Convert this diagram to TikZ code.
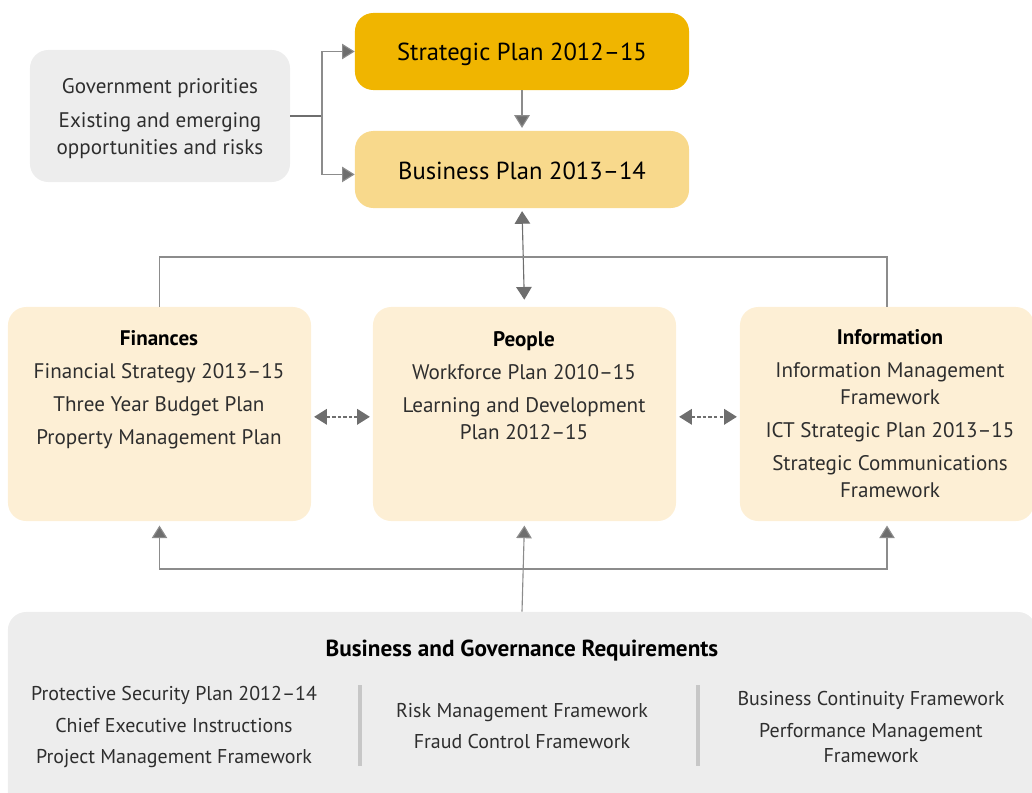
\documentclass[tikz,border=0pt]{standalone}
\usepackage{fontspec}
\setmainfont{PT Sans}
\usetikzlibrary{arrows.meta}

\definecolor{oro}{HTML}{F0B500}
\definecolor{orochiaro}{HTML}{F8D98C}
\definecolor{crema}{HTML}{FDEFD5}
\definecolor{grigiofondo}{HTML}{EDEDED}
\definecolor{grigiolinea}{HTML}{8C8C8C}
\definecolor{grigiofreccia}{HTML}{6E6E6E}
\definecolor{testo}{HTML}{2E2E2E}

\begin{document}
\begin{tikzpicture}[
  x=0.025cm, y=-0.025cm,
  riquadro/.style={rounded corners=13pt, inner sep=0pt, draw=none},
  titolo/.style={align=center, text=black, font=\fontsize{17.5}{21}\selectfont},
  etichetta/.style={align=center, text=testo, font=\fontsize{15}{19.2}\selectfont},
  piccola/.style={etichetta, font=\fontsize{14.2}{19.2}\selectfont},
  linea/.style={draw=grigiolinea, line width=0.8pt},
  freccia/.style={linea, -{Triangle[width=11pt, length=9pt, fill=grigiofreccia]}},
  doppia/.style={draw=grigiofreccia, line width=0.8pt,
                 {Triangle[width=11pt, length=9pt]}-{Triangle[width=11pt, length=9pt]}},
  tratteggio/.style={draw=grigiofreccia, line width=1.2pt,
                     dash pattern=on 2.5pt off 1.5pt,
                     {Triangle[width=11pt, length=9pt]}-{Triangle[width=11pt, length=9pt]}},
  separatore/.style={draw=black!22, line width=2.2pt}
]
\useasboundingbox (0,0) rectangle (1032,792);

%--------------------------------------------------------------
% Piani principali e fattori esterni
%--------------------------------------------------------------
\node[riquadro, fill=grigiofondo, minimum width=6.5cm, minimum height=3.3cm]
  (governo) at (160,116) {};
\node[riquadro, fill=oro, minimum width=8.35cm, minimum height=1.925cm]
  (strategico) at (522,51.5) {};
\node[riquadro, fill=orochiaro, minimum width=8.35cm, minimum height=1.925cm]
  (business) at (522,169.5) {};

\node[etichetta] (txtgoverno) at (160,119)
  {Government priorities\\[5pt] Existing and emerging\\ opportunities and risks};
\node[titolo] (txtstrategico) at (522,54) {Strategic Plan 2012–15};
\node[titolo] (txtbusiness) at (522,171) {Business Plan 2013–14};

%--------------------------------------------------------------
% Aree di supporto: finanze, persone, informazione
%--------------------------------------------------------------
\node[riquadro, fill=crema, minimum width=7.575cm, minimum height=5.35cm]
  (finanze) at (159.5,414) {};
\node[riquadro, fill=crema, minimum width=7.575cm, minimum height=5.35cm]
  (persone) at (524.5,414) {};
\node[riquadro, fill=crema, minimum width=7.35cm, minimum height=5.35cm]
  (informazione) at (887,414) {};

\node[etichetta] (txtfinanze) at (159,390)
  {\textbf{\color{black}Finances}\\[4.3pt] Financial Strategy 2013–15\\[4.3pt]
   Three Year Budget Plan\\[4.3pt] Property Management Plan};
\node[etichetta] (txtpersone) at (524,386)
  {\textbf{\color{black}People}\\[4.3pt] Workforce Plan 2010–15\\[4.3pt]
   Learning and Development\\ Plan 2012–15};
\node[etichetta] (txtinformazione) at (890,414)
  {\textbf{\color{black}Information}\\[4.3pt] Information Management\\ Framework\\[4.3pt]
   ICT Strategic Plan 2013–15\\[4.3pt] Strategic Communications\\ Framework};

%--------------------------------------------------------------
% Requisiti di business e di governance
%--------------------------------------------------------------
\node[riquadro, fill=grigiofondo, minimum width=25.7cm, minimum height=5.2cm]
  (requisiti) at (522,716) {};

\node[etichetta, text=black, font=\bfseries\fontsize{16.5}{19}\selectfont]
  (txtrequisiti) at (522,651) {Business and Governance Requirements};
\node[piccola] (colsinistra) at (174,727)
  {Protective Security Plan 2012–14\\[3.5pt] Chief Executive Instructions\\[3.5pt]
   Project Management Framework};
\node[piccola] (colcentro) at (522,726)
  {Risk Management Framework\\[3pt] Fraud Control Framework};
\node[piccola] (coldestra) at (871,727)
  {Business Continuity Framework\\[3.5pt] Performance Management\\[-2pt] Framework};

\draw[separatore] (360,685) -- (360,766);
\draw[separatore] (698,685) -- (698,766);

%--------------------------------------------------------------
% Collegamenti
%--------------------------------------------------------------
\coordinate (snodo) at (322,116);
\draw[draw=grigiofreccia, line width=1.4pt] (governo.east) -- (snodo);
\draw[freccia] (snodo) |- (strategico.west);
\draw[freccia] (snodo) |- ([yshift=-3.5pt]business.west);
\draw[freccia, shorten >=2pt] (strategico.south) -- (business.north);

\draw[doppia, shorten <=2pt, shorten >=5pt] (business.south) -- (persone.north);
\coordinate (ramo) at (522,257);
\draw[linea] (finanze.north) |- (ramo) -| (informazione.north);

\draw[tratteggio, shorten <=2pt, shorten >=2pt]
  ([yshift=-2pt]finanze.east) -- ([yshift=-2pt]persone.west);
\draw[tratteggio, shorten <=2pt, shorten >=2pt]
  ([yshift=-2pt]persone.east) -- ([yshift=-2pt]informazione.west);

\coordinate (base) at (522,569);
\draw[freccia, shorten >=3pt] (requisiti.north) -- (persone.south);
\draw[freccia, shorten >=3pt] (base) -| (finanze.south);
\draw[freccia, shorten >=3pt] (base) -| (informazione.south);

\end{tikzpicture}
\end{document}
